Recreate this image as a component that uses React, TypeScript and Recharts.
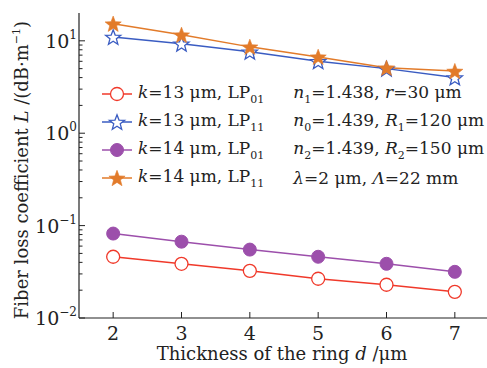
import React from "react";
import { LineChart, Line, XAxis, YAxis } from "recharts";

const thickness = [2, 3, 4, 5, 6, 7];
const k13LP01 = [0.046, 0.0386, 0.0324, 0.0266, 0.0229, 0.0192];
const k13LP11 = [11.0, 9.3, 7.6, 6.0, 5.0, 4.0];
const k14LP01 = [0.082, 0.067, 0.055, 0.046, 0.0386, 0.0316];
const k14LP11 = [15.3, 11.6, 8.6, 6.7, 5.1, 4.7];

const xTicks = [2, 3, 4, 5, 6, 7];
// log axis: major ticks at decades, minor at 2..9
const yTicks = [
  0.01, 0.02, 0.03, 0.04, 0.05, 0.06, 0.07, 0.08, 0.09,
  0.1, 0.2, 0.3, 0.4, 0.5, 0.6, 0.7, 0.8, 0.9,
  1, 2, 3, 4, 5, 6, 7, 8, 9,
  10,
];

const FONT = "'DejaVu Serif', serif";
const RED = "#f0392a";
const BLUE = "#3a5cc2";
const PURPLE = "#9c4fab";
const ORANGE = "#e27b2a";

const data = thickness.map((d, i) => ({
  d,
  a: k13LP01[i],
  b: k13LP11[i],
  c: k14LP01[i],
  e: k14LP11[i],
}));

function starPath(cx: number, cy: number, ro: number, ri: number) {
  let p = "";
  for (let i = 0; i < 10; i++) {
    const r = i % 2 === 0 ? ro : ri;
    const a = -Math.PI / 2 + (i * Math.PI) / 5;
    p += (i === 0 ? "M" : "L") + (cx + r * Math.cos(a)).toFixed(2) + "," + (cy + r * Math.sin(a)).toFixed(2);
  }
  return p + "Z";
}

type Kind = "circleOpen" | "starOpen" | "circle" | "star";

function Marker({ cx, cy, kind, color }: { cx: number; cy: number; kind: Kind; color: string }) {
  if (kind === "circleOpen") return <circle cx={cx} cy={cy} r={6.5} fill="#fff" stroke={color} strokeWidth={1.3} />;
  if (kind === "circle") return <circle cx={cx} cy={cy} r={6.5} fill={color} stroke={color} />;
  if (kind === "starOpen") return <path d={starPath(cx, cy + 0.8, 8, 3.4)} fill="#fff" stroke={color} strokeWidth={1.3} />;
  return <path d={starPath(cx, cy + 0.8, 8.5, 3.6)} fill={color} stroke={color} strokeWidth={0.6} />;
}

const dotOf = (kind: Kind, color: string) => (props: any) =>
  <Marker key={`${kind}-${props.index}`} cx={props.cx} cy={props.cy} kind={kind} color={color} />;

const YTick = (props: any) => {
  const { x, y, payload } = props;
  const v = payload.value as number;
  const lg = Math.log10(v);
  const exp = Math.round(lg);
  const major = Math.abs(lg - exp) < 1e-6;
  return (
    <g>
      <line x1={x} y1={y} x2={x + (major ? 6 : 3.5)} y2={y} stroke="#222" strokeWidth={1} />
      {major && (
        <text x={x - 2} y={y + 7} textAnchor="end" fontFamily={FONT} fontSize={19} fill="#222">
          10
          <tspan dy={-9} fontSize={12}>{exp < 0 ? `\u2212${-exp}` : `${exp}`}</tspan>
        </text>
      )}
    </g>
  );
};

const XTick = (props: any) => {
  const { x, y, payload } = props;
  return (
    <g>
      <line x1={x} y1={y} x2={x} y2={y - 6} stroke="#222" strokeWidth={1} />
      <text x={x} y={y + 22} textAnchor="middle" fontFamily={FONT} fontSize={19} fill="#222">
        {payload.value}
      </text>
    </g>
  );
};

const legendRows: { kind: Kind; color: string; k: string; mode: string }[] = [
  { kind: "circleOpen", color: RED, k: "13", mode: "01" },
  { kind: "starOpen", color: BLUE, k: "13", mode: "11" },
  { kind: "circle", color: PURPLE, k: "14", mode: "01" },
  { kind: "star", color: ORANGE, k: "14", mode: "11" },
];

const subStyle: React.CSSProperties = { fontSize: 11, verticalAlign: "-5px" };
const rowStyle: React.CSSProperties = { height: 28, display: "flex", alignItems: "center", whiteSpace: "nowrap" };

const LegendBox = () => (
  <div style={{ position: "absolute", left: 100, top: 80, display: "flex", fontFamily: FONT, fontSize: 17, color: "#222" }}>
    <div>
      {legendRows.map((r) => (
        <div key={r.kind} style={rowStyle}>
          <svg width={36} height={20}>
            <line x1={2} y1={10} x2={32} y2={10} stroke={r.color} strokeWidth={1.5} />
            <Marker cx={17} cy={10} kind={r.kind} color={r.color} />
          </svg>
          <span style={{ marginLeft: 2 }}>
            <i>k</i>={r.k} μm, LP<span style={subStyle}>{r.mode}</span>
          </span>
        </div>
      ))}
    </div>
    <div style={{ marginLeft: 29 }}>
      <div style={rowStyle}>
        <span><i>n</i><span style={subStyle}>1</span>=1.438, <i>r</i>=30 μm</span>
      </div>
      <div style={rowStyle}>
        <span><i>n</i><span style={subStyle}>0</span>=1.439, <i>R</i><span style={subStyle}>1</span>=120 μm</span>
      </div>
      <div style={rowStyle}>
        <span><i>n</i><span style={subStyle}>2</span>=1.439, <i>R</i><span style={subStyle}>2</span>=150 μm</span>
      </div>
      <div style={rowStyle}>
        <span><i>λ</i>=2 μm, <i>Λ</i>=22 mm</span>
      </div>
    </div>
  </div>
);

const YLabel = () => (
  <text
    transform="translate(28,170) rotate(-90)"
    textAnchor="middle"
    fontFamily={FONT}
    fontSize={18}
    fill="#222"
  >
    Fiber loss coefficient <tspan fontStyle="italic">L</tspan> /(dB·m
    <tspan dy={-8} fontSize={11}>−1</tspan>
    <tspan dy={8}>)</tspan>
  </text>
);

const XLabel = () => (
  <text x={282} y={360} textAnchor="middle" fontFamily={FONT} fontSize={18} fill="#222">
    Thickness of the ring <tspan fontStyle="italic">d</tspan> /μm
  </text>
);

export default function App() {
  return (
    <div style={{ position: "absolute", left: 0, top: 0, width: 487, height: 368, overflow: "hidden", background: "#fff" }}>
      <LineChart width={492} height={368} data={data} margin={{ top: 13, right: 3, left: 0, bottom: 0 }}>
        <XAxis
          dataKey="d"
          type="number"
          domain={[1.5, 7.5]}
          ticks={xTicks}
          height={50}
          tickSize={0}
          tickMargin={0}
          tick={<XTick />}
          axisLine={{ stroke: "#222", strokeWidth: 1.2 }}
          tickLine={false}
          label={<XLabel />}
        />
        <XAxis
          xAxisId="top"
          orientation="top"
          type="number"
          domain={[1.5, 7.5]}
          height={0}
          tick={false}
          tickLine={false}
          axisLine={{ stroke: "#222", strokeWidth: 1.2 }}
        />
        <YAxis
          scale="log"
          domain={[0.01, 20]}
          allowDataOverflow
          ticks={yTicks}
          interval={0}
          width={79}
          tickSize={0}
          tickMargin={0}
          tick={<YTick />}
          axisLine={{ stroke: "#222", strokeWidth: 1.2 }}
          tickLine={false}
          label={<YLabel />}
        />
        <Line dataKey="a" stroke={RED} strokeWidth={1.5} dot={dotOf("circleOpen", RED)} isAnimationActive={false} />
        <Line dataKey="c" stroke={PURPLE} strokeWidth={1.5} dot={dotOf("circle", PURPLE)} isAnimationActive={false} />
        <Line dataKey="b" stroke={BLUE} strokeWidth={1.5} dot={dotOf("starOpen", BLUE)} isAnimationActive={false} />
        <Line dataKey="e" stroke={ORANGE} strokeWidth={1.5} dot={dotOf("star", ORANGE)} isAnimationActive={false} />
      </LineChart>
      <LegendBox />
    </div>
  );
}
